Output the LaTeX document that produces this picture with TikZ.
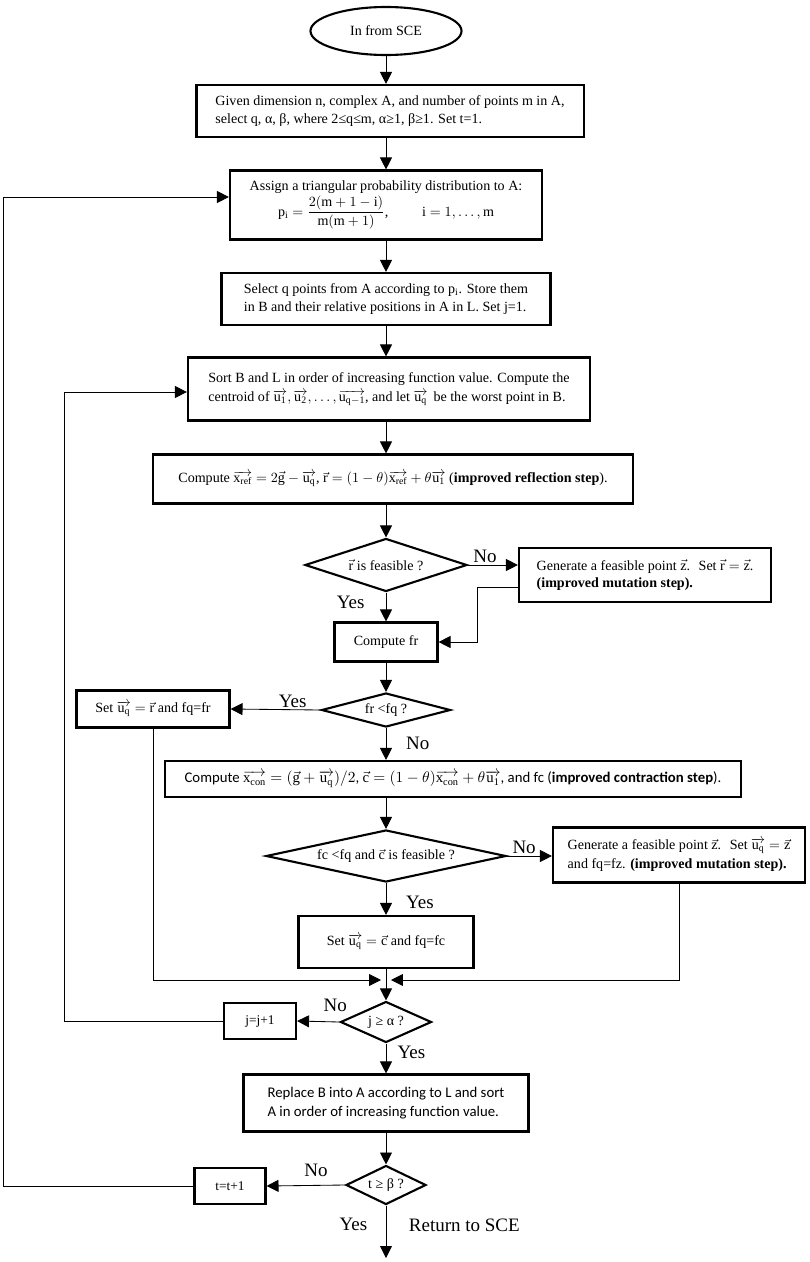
\documentclass[tikz,border=0pt]{standalone}
\usepackage{amsmath}
\usepackage{fontspec}
\setmainfont{Liberation Serif}
\newfontfamily\calib{Carlito}
\usetikzlibrary{arrows.meta,shapes.geometric}
\newcommand{\ovec}[2]{\overrightarrow{\mathrm{#1}_{\mathrm{#2}}}}
\newcommand{\svec}[1]{\vec{\mathrm{#1}}}
\begin{document}
\begin{tikzpicture}[x=0.025cm, y=-0.025cm,
  box/.style={draw, line width=1.5pt, inner sep=2pt, align=left, font=\fontsize{10}{12.5}\selectfont},
  dec/.style={draw, diamond, line width=1.5pt, inner sep=0pt, font=\fontsize{10}{12}\selectfont},
  arr/.style={-{Triangle[length=8.5pt,width=8.5pt]}, line width=0.6pt},
  lbl/.style={font=\fontsize{13.5}{16}\selectfont, inner sep=1pt}]
\useasboundingbox (0,0) rectangle (809,1262);
% main column
\node[ellipse, draw, line width=1.5pt, minimum width=3.775cm, minimum height=1.2cm, font=\fontsize{10}{12}\selectfont] (start) at (386,31) {In from SCE};
\node[box, minimum width=9.675cm, minimum height=1.3cm] (given) at (390,111) {Given dimension n, complex A, and number of points m in A,\\select q, α, β, where 2≤q≤m, α≥1, β≥1. Set t=1.};
\node[box, align=center, minimum width=7.8cm, minimum height=1.725cm] (assign) at (386,205) {Assign a triangular probability distribution to A:\\[1pt]$\mathrm{p_i}=\displaystyle\frac{2(\mathrm{m}+1-\mathrm{i})}{\mathrm{m}(\mathrm{m}+1)}$,\hspace{2.4em}$\mathrm{i}=1,\dots,\mathrm{m}$};
\node[box, minimum width=8.225cm, minimum height=1.3cm] (select) at (386,299) {Select q points from A according to $\mathrm{p_i}$. Store them\\in B and their relative positions in A in L. Set j=1.};
\node[box, minimum width=10.05cm, minimum height=1.575cm, font=\fontsize{10}{14}\selectfont] (sort) at (389,389) {Sort B and L in order of increasing function value. Compute the\\centroid of $\ovec{u}{1}, \ovec{u}{2}, \dots, \ovec{u}{q-1}$, and let $\ovec{u}{q}$\, be the worst point in B.};
\node[box, minimum width=12cm, minimum height=1.225cm] (reflect) at (393,479) {Compute $\ovec{x}{ref}=2\svec{g}-\ovec{u}{q}$, $\svec{r}=(1-\theta)\ovec{x}{ref}+\theta\ovec{u}{1}$ (\textbf{improved reflection step}).};
\node[dec, shape aspect=3.05, minimum width=4.05cm, minimum height=1.325cm] (dfeas) at (386,565) {$\svec{r}$ is feasible ?};
\node[box, minimum width=6.3cm, minimum height=1.35cm] (mut1) at (645,575) {Generate a feasible point $\svec{z}$.\; Set $\svec{r}=\svec{z}$.\\\textbf{(improved mutation step).}};
\node[box, minimum width=2.575cm, minimum height=0.975cm] (compfr) at (386,642) {Compute fr};
\node[dec, shape aspect=3.8, minimum width=3.225cm, minimum height=0.85cm] (dfr) at (386,710) {fr <fq ?};
\node[box, minimum width=3.825cm, minimum height=0.925cm] (setr) at (153,709) {Set $\ovec{u}{q}=\svec{r}$ and fq=fr};
\node[box, minimum width=14.375cm, minimum height=0.9cm, font=\calib\fontsize{10.5}{12.5}\selectfont] (contract) at (453,779) {Compute $\ovec{x}{con}=(\svec{g}+\ovec{u}{q})/2$, $\svec{c}=(1-\theta)\ovec{x}{con}+\theta\ovec{u}{1}$, and fc (\textbf{improved contraction step}).};
\node[dec, shape aspect=4.6, minimum width=6cm, minimum height=1.3cm] (dfc) at (386,856) {fc <fq and $\svec{c}$ is feasible ?};
\node[box, minimum width=6.3cm, minimum height=1.375cm, font=\fontsize{10}{13.5}\selectfont] (mut2) at (679,855) {Generate a feasible point $\svec{z}$.\; Set $\ovec{u}{q}=\svec{z}$\\and fq=fz. \textbf{(improved mutation step).}};
\node[box, minimum width=4.375cm, minimum height=1.3cm] (setc) at (386,942) {Set $\ovec{u}{q}=\svec{c}$ and fq=fc};
\coordinate (mL) at (381,980);
\coordinate (mR) at (391,980);
\node[dec, shape aspect=2.2, minimum width=2.275cm, minimum height=1.025cm] (dj) at (386,1022) {j ≥ α ?};
\node[box, minimum width=1.8cm, minimum height=0.9cm, font=\fontsize{9.5}{11}\selectfont] (jinc) at (260,1021) {j=j+1};
\node[box, minimum width=7.125cm, minimum height=1.425cm, font=\calib\fontsize{10.5}{14}\selectfont] (replace) at (386,1103) {Replace B into A according to L and sort\\A in order of increasing function value.};
\node[dec, shape aspect=2.05, minimum width=2cm, minimum height=0.975cm] (dt) at (386,1185) {t ≥ β ?};
\node[box, minimum width=1.775cm, minimum height=0.9cm, font=\fontsize{9.5}{11}\selectfont] (tinc) at (230,1186) {t=t+1};
\coordinate (out) at (386,1258);
\coordinate (back) at (477,587);
\coordinate (loopj) at (64,392);
\coordinate (loopt) at (3,197);
% connectors
\draw[arr] (start) -- (start |- given.north);
\draw[arr] (start |- given.south) -- (start |- assign.north);
\draw[arr] (assign) -- (select);
\draw[arr] (select) -- (select |- sort.north);
\draw[arr] (select |- sort.south) -- (select |- reflect.north);
\draw[arr] (dfeas |- reflect.south) -- (dfeas);
\draw[arr] (dfeas.east) -- node[lbl, above, pos=0.34] (no1) {No} (dfeas.east -| mut1.west);
\draw[arr] (back -| mut1.west) -- (back) |- (compfr.east);
\draw[arr] (dfeas) -- node[lbl, left=14pt, pos=0.35] (yes1) {Yes} (compfr);
\draw[arr] (compfr) -- (dfr);
\draw[arr] (dfr.west) -- node[lbl, above, pos=0.31] (yes2) {Yes} (setr.east);
\draw[arr] (dfr.south) -- node[lbl, right=13pt, pos=0.47] (no2) {No} (dfr.south |- contract.north);
\draw[arr] (contract.south -| dfc.north) -- (dfc.north);
\draw[arr] (dfc.east) -- node[lbl, above, pos=0.38] (no3) {No} (dfc.east -| mut2.west);
\draw[arr] (dfc) -- node[lbl, right=13pt, pos=0.6] (yes3) {Yes} (setc);
\draw[arr] (setc) -- (dj);
\draw[arr] (setr.south) |- (mL);
\draw[arr] (mut2.south) |- (mR);
\draw[arr] (dj.west) -- node[lbl, above=6pt, pos=0.1] (no4) {No} (jinc.east);
\draw[arr] (jinc.west) -| (loopj) -- (loopj -| sort.west);
\draw[arr] (dj) -- node[lbl, right=7pt, pos=0.3] (yes4) {Yes} (replace);
\draw[arr] (replace) -- (dt);
\draw[arr] (dt.west) -- node[lbl, above=5pt, pos=0.37] (no5) {No} (tinc.east);
\draw[arr] (tinc.west) -| (loopt) -- (loopt -| assign.west);
\draw[arr] (dt.south) -- node[lbl, left=12pt, pos=0.35] (yes5) {Yes} node[lbl, right=15pt, pos=0.38] (ret) {Return to SCE} (out);
\end{tikzpicture}
\end{document}
